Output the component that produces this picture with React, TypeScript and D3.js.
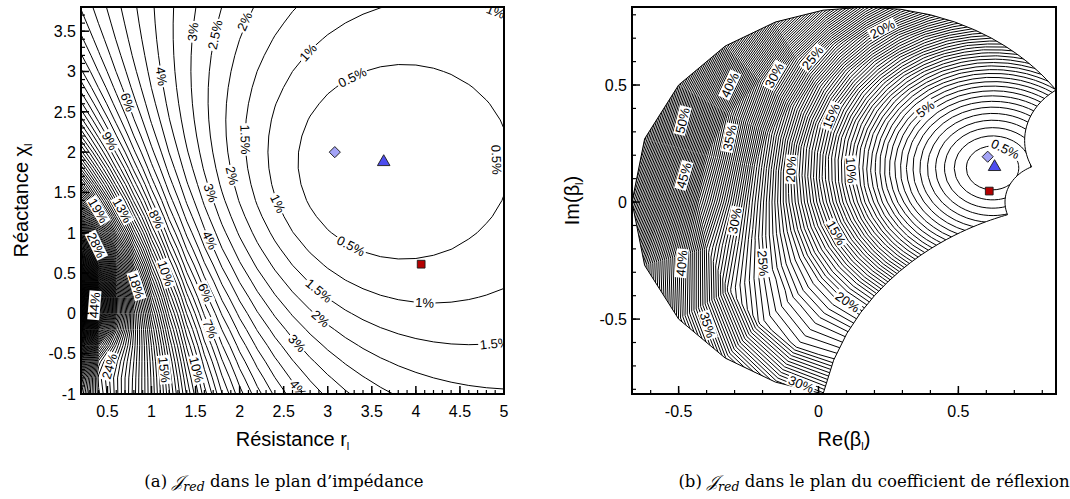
import React, { useMemo } from "react";
import * as d3 from "d3";

// ---------- data ----------
// nodes of the impedance mesh (r_l, chi_l) on which J_red is tabulated (used by both panels)
const R_NODES = [0.2, 0.4, 0.6, 0.8, 1.0, 1.2, 1.4, 1.6, 1.8, 2.0, 2.2, 2.4, 2.6, 2.8, 3.0, 3.2, 3.4, 3.6, 3.8, 4.0, 4.2, 4.4, 4.6, 4.8, 5.0];
const X_NODES = [-1.0, -0.8, -0.6, -0.4, -0.2, 0.0, 0.2, 0.4, 0.6, 0.8, 1.0, 1.2, 1.4, 1.6, 1.8, 2.0, 2.2, 2.4, 2.6, 2.8, 3.0, 3.2, 3.4, 3.6, 3.8];
const MESH_STEP = 0.2;

// contour levels (percent)
const LEVEL_STEP = 0.5;
const LEVEL_MAX = 66;

// J_red field: optimum in the reflection plane, growth rates
const OPTIMUM_BETA = [0.622, 0.146];
const FAR_GAIN = 39;
const NEAR_GAIN = 21;
const NEAR_SCALE = 0.05;
const SKEW_MAX = 0.9;
const SKEW_START = 0.55;
const SKEW_SPAN = 0.6;
const SOFT = 0.08;

// markers in the impedance plane (r, chi)
const MARKER_NAMES = ["diamond", "triangle", "square"];
const MARKER_R = [3.08, 3.635, 4.06];
const MARKER_X = [2.0, 1.878, 0.61];
const MARKER_FILL = ["#a3a3f6", "#4d4def", "#b40000"];

// contour labels: [value %, r, chi] (left) and [value %, Re, Im] (right)
const LEFT_LABELS: number[][] = [
  [3, 1.34, 3.5], [2.5, 1.59, 3.48], [2, 1.93, 3.68], [4, 1.02, 2.92], [6, 0.63, 2.57],
  [9, 0.45, 2.09], [19, 0.34, 1.24], [13, 0.64, 1.26], [8, 1.08, 1.18], [3, 1.61, 1.47],
  [2, 1.81, 1.68], [1.5, 1.95, 2.15], [1, 2.7, 3.31], [1, 2.34, 1.32], [0.5, 3.29, 2.9],
  [0.5, 4.78, 1.9], [1, 4.86, 3.62], [0.5, 3.25, 0.81], [1, 4.1, 0.18], [1.5, 2.86, 0.23],
  [2, 2.89, -0.1], [3, 2.67, -0.35], [4, 2.76, -0.85], [1.5, 4.88, -0.27], [28, 0.38, 0.85],
  [44, 0.36, 0.1], [18, 0.85, 0.35], [10, 1.17, 0.5], [4, 1.63, 0.89], [6, 1.63, 0.27],
  [7, 1.67, -0.19], [24, 0.62, -0.68], [15, 1.13, -0.7], [10, 1.54, -0.69],
];
const RIGHT_LABELS: number[][] = [
  [50, -0.46, 0.34], [45, -0.47, 0.11], [40, -0.3, 0.49], [35, -0.3, 0.27], [30, -0.14, 0.53],
  [25, -0.02, 0.615], [15, 0.06, 0.36], [20, -0.09, 0.14], [10, 0.125, 0.137], [30, -0.3, -0.08],
  [40, -0.5, -0.26], [35, -0.41, -0.53], [25, -0.18, -0.26], [15, 0.05, -0.14], [20, 0.114, -0.41],
  [30, -0.046, -0.73], [5, 0.38, 0.4], [20, 0.21, 0.78], [0.5, 0.66, 0.21],
];

// axes
const LEFT_X_TICKS = [0.5, 1, 1.5, 2, 2.5, 3, 3.5, 4, 4.5, 5];
const LEFT_Y_TICKS = [-1, -0.5, 0, 0.5, 1, 1.5, 2, 2.5, 3, 3.5];
const RIGHT_X_TICKS = [-0.5, 0, 0.5];
const RIGHT_Y_TICKS = [-0.5, 0, 0.5];

// ---------- helpers ----------
function toBeta(r: number, x: number): [number, number] {
  const a = r - 1, b = x, c = r + 1, d = x;
  const den = c * c + d * d;
  return [(a * c + b * d) / den, (b * c - a * d) / den];
}
function toZ(re: number, im: number): [number, number] {
  const a = 1 + re, b = im, c = 1 - re, d = -im;
  const den = c * c + d * d;
  return [(a * c + b * d) / den, (b * c - a * d) / den];
}
function softplus(v: number) {
  const t = v / SOFT;
  return t > 30 ? v : SOFT * Math.log1p(Math.exp(t));
}
function jred(re: number, im: number) {
  const dx = re - OPTIMUM_BETA[0], dy = im - OPTIMUM_BETA[1];
  const d = Math.hypot(dx, dy);
  const t = Math.min(1, Math.max(0, (d - SKEW_START) / SKEW_SPAN));
  const k = SKEW_MAX * t * t * (3 - 2 * t);
  const u = Math.max(0, d * d - k * softplus(-dx) * softplus(-dy));
  return FAR_GAIN * u + NEAR_GAIN * u * Math.exp(-u / NEAR_SCALE);
}

const FONT = "'Liberation Sans', Arial, Helvetica, sans-serif";
const SERIF = "'DejaVu Serif', 'Liberation Serif', serif";

const charW: Record<string, number> = { ".": 0.278, "%": 0.889 };
function textWidth(s: string, size: number) {
  let w = 0;
  for (const ch of s) w += charW[ch] ?? 0.556;
  return w * size;
}

function placeLabel(level: number, px0: number, py0: number, f: (x: number, y: number) => number) {
  let px = px0, py = py0;
  const h = 0.75;
  const MAXD = 12;
  for (let it = 0; it < 40; it++) {
    const v = f(px, py);
    const gx = (f(px + h, py) - f(px - h, py)) / (2 * h);
    const gy = (f(px, py + h) - f(px, py - h)) / (2 * h);
    const g2 = gx * gx + gy * gy;
    if (g2 < 1e-12) break;
    let sx = ((level - v) * gx) / g2, sy = ((level - v) * gy) / g2;
    const len = Math.hypot(sx, sy);
    if (len > 4) { sx *= 4 / len; sy *= 4 / len; }
    px += sx; py += sy;
    const dd = Math.hypot(px - px0, py - py0);
    if (dd > MAXD) { px = px0 + ((px - px0) * MAXD) / dd; py = py0 + ((py - py0) * MAXD) / dd; }
    if (len < 0.01) break;
  }
  const H = 3;
  const gx = f(px + H, py) - f(px - H, py);
  const gy = f(px, py + H) - f(px, py - H);
  let ang = (Math.atan2(gy, gx) * 180) / Math.PI + 90;
  while (ang > 90) ang -= 180;
  while (ang <= -90) ang += 180;
  return { px, py, ang };
}

function fmt(v: number) { return String(v); }

export default function App() {
  const built = useMemo(() => {
    const R_EXT = [R_NODES[0] - MESH_STEP, ...R_NODES, R_NODES[R_NODES.length - 1] + MESH_STEP];
    const X_EXT = [X_NODES[0] - MESH_STEP, ...X_NODES, X_NODES[X_NODES.length - 1] + MESH_STEP];
    const n = R_EXT.length, m = X_EXT.length;
    const values: number[] = new Array(n * m);
    const betaNodes: [number, number][] = new Array(n * m);
    for (let j = 0; j < m; j++) {
      for (let i = 0; i < n; i++) {
        const b = toBeta(R_EXT[i], X_EXT[j]);
        betaNodes[i + j * n] = b;
        values[i + j * n] = jred(b[0], b[1]);
      }
    }
    const levels = d3.range(1, Math.round(LEVEL_MAX / LEVEL_STEP) + 1).map((k) => k * LEVEL_STEP);
    const contours = d3.contours().size([n, m]).thresholds(levels)(values);

    const meshValue = (r: number, x: number) => {
      const u = (r - R_EXT[0]) / MESH_STEP, v = (x - X_EXT[0]) / MESH_STEP;
      const i0 = Math.min(n - 2, Math.max(0, Math.floor(u)));
      const j0 = Math.min(m - 2, Math.max(0, Math.floor(v)));
      const t = u - i0, s = v - j0;
      const a = values[i0 + j0 * n], b = values[i0 + 1 + j0 * n];
      const c = values[i0 + (j0 + 1) * n], d = values[i0 + 1 + (j0 + 1) * n];
      return (1 - t) * (1 - s) * a + t * (1 - s) * b + (1 - t) * s * c + t * s * d;
    };
    const meshToBeta = (cx: number, cy: number): [number, number] => {
      const u = cx - 0.5, v = cy - 0.5;
      const i0 = Math.min(n - 2, Math.max(0, Math.floor(u)));
      const j0 = Math.min(m - 2, Math.max(0, Math.floor(v)));
      const t = u - i0, s = v - j0;
      const a = betaNodes[i0 + j0 * n], b = betaNodes[i0 + 1 + j0 * n];
      const c = betaNodes[i0 + (j0 + 1) * n], d = betaNodes[i0 + 1 + (j0 + 1) * n];
      return [
        (1 - t) * (1 - s) * a[0] + t * (1 - s) * b[0] + (1 - t) * s * c[0] + t * s * d[0],
        (1 - t) * (1 - s) * a[1] + t * (1 - s) * b[1] + (1 - t) * s * c[1] + t * s * d[1],
      ];
    };

    // scales
    const xL = d3.scaleLinear().domain([0.2, 5]).range([81, 504]);
    const yL = d3.scaleLinear().domain([-1, 3.8]).range([394, 7]);
    const xR = d3.scaleLinear().domain([-0.6667, 0.849]).range([632, 1056]);
    const yR = d3.scaleLinear().domain([-0.82, 0.8333]).range([394, 7]);

    const pathL = d3.geoPath(
      d3.geoTransform({
        point(this: any, cx: number, cy: number) {
          const r = R_EXT[0] + (cx - 0.5) * MESH_STEP;
          const x = X_EXT[0] + (cy - 0.5) * MESH_STEP;
          this.stream.point(xL(r), yL(x));
        },
      })
    );
    const pathR = d3.geoPath(
      d3.geoTransform({
        point(this: any, cx: number, cy: number) {
          const b = meshToBeta(cx, cy);
          this.stream.point(xR(b[0]), yR(b[1]));
        },
      })
    );
    const leftPaths = contours.map((c) => pathL(c as any) || "");
    const rightPaths = contours.map((c) => pathR(c as any) || "");

    // region boundary in reflection plane
    const bnd: [number, number][] = [];
    X_NODES.forEach((x) => bnd.push([R_NODES[0], x]));
    R_NODES.slice(1).forEach((r) => bnd.push([r, X_NODES[X_NODES.length - 1]]));
    X_NODES.slice(0, -1).reverse().forEach((x) => bnd.push([R_NODES[R_NODES.length - 1], x]));
    R_NODES.slice(1, -1).reverse().forEach((r) => bnd.push([r, X_NODES[0]]));
    const regionPts = bnd.map(([r, x]) => {
      const b = toBeta(r, x);
      return [xR(b[0]), yR(b[1])] as [number, number];
    });
    const regionPath = "M" + regionPts.map((p) => p.join(",")).join("L") + "Z";

    const fL = (px: number, py: number) => meshValue(xL.invert(px), yL.invert(py));
    const fR = (px: number, py: number) => {
      const z = toZ(xR.invert(px), yR.invert(py));
      return meshValue(z[0], z[1]);
    };
    const leftLabels = LEFT_LABELS.map(([v, r, x]) => ({ v, ...placeLabel(v, xL(r), yL(x), fL) }));
    const rightLabels = RIGHT_LABELS.map(([v, re, im]) => ({ v, ...placeLabel(v, xR(re), yR(im), fR) }));

    const markersL = MARKER_NAMES.map((nm, i) => ({ nm, fill: MARKER_FILL[i], x: xL(MARKER_R[i]), y: yL(MARKER_X[i]) }));
    const markersR = MARKER_NAMES.map((nm, i) => {
      const b = toBeta(MARKER_R[i], MARKER_X[i]);
      return { nm, fill: MARKER_FILL[i], x: xR(b[0]), y: yR(b[1]) };
    });

    return { xL, yL, xR, yR, leftPaths, rightPaths, regionPath, leftLabels, rightLabels, markersL, markersR };
  }, []);

  const { xL, yL, xR, yR } = built;

  const marker = (mk: { nm: string; fill: string; x: number; y: number }, key: string) => {
    let d = "";
    if (mk.nm === "diamond") d = d3.symbol().type(d3.symbolSquare).size(62)() || "";
    if (mk.nm === "triangle") d = d3.symbol().type(d3.symbolTriangle).size(68)() || "";
    if (mk.nm === "square") d = d3.symbol().type(d3.symbolSquare).size(60)() || "";
    const rot = mk.nm === "diamond" ? " rotate(45)" : "";
    return <path key={key} d={d} transform={`translate(${mk.x},${mk.y})${rot}`} fill={mk.fill} stroke="#1a1a1a" strokeWidth={0.9} />;
  };

  const label = (lb: { v: number; px: number; py: number; ang: number }, key: string) => {
    const s = fmt(lb.v) + "%";
    const w = textWidth(s, 13);
    return (
      <g key={key} transform={`translate(${lb.px},${lb.py}) rotate(${lb.ang})`}>
        <rect x={-w / 2 - 1.5} y={-6} width={w + 3} height={12} fill="#fff" />
        <text x={0} y={0} dy="0.36em" textAnchor="middle" fontSize={13} fontFamily={FONT} fill="#000">{s}</text>
      </g>
    );
  };

  const minor = (a: number, b: number) => d3.range(Math.round(a * 10), Math.round(b * 10) + 1).map((k) => k / 10);

  const axes = (
    xs: d3.ScaleLinear<number, number>, ys: d3.ScaleLinear<number, number>,
    xt: number[], yt: number[], xMinor: number[], yMinor: number[], key: string
  ) => {
    const [x0, x1] = xs.range();
    const [y1, y0] = ys.range();
    return (
      <g key={key}>
        {xMinor.map((v, i) => (
          <line key={"xm" + i} x1={xs(v)} x2={xs(v)} y1={y1} y2={y1 - 4} stroke="#000" strokeWidth={1.2} />
        ))}
        {yMinor.map((v, i) => (
          <line key={"ym" + i} x1={x0} x2={x0 + 4} y1={ys(v)} y2={ys(v)} stroke="#000" strokeWidth={1.2} />
        ))}
        {xt.map((v, i) => (
          <g key={"xt" + i}>
            <line x1={xs(v)} x2={xs(v)} y1={y1} y2={y1 - 8} stroke="#000" strokeWidth={1.5} />
            <text x={xs(v)} y={417} textAnchor="middle" fontSize={16} fontFamily={FONT}>{fmt(v)}</text>
          </g>
        ))}
        {yt.map((v, i) => (
          <g key={"yt" + i}>
            <line x1={x0} x2={x0 + 8} y1={ys(v)} y2={ys(v)} stroke="#000" strokeWidth={1.5} />
            <text x={x0 - 5} y={ys(v)} dy="0.36em" textAnchor="end" fontSize={16} fontFamily={FONT}>{fmt(v)}</text>
          </g>
        ))}
        <rect x={x0} y={y0} width={x1 - x0} height={y1 - y0} fill="none" stroke="#000" strokeWidth={2} />
      </g>
    );
  };

  return (
    <svg width={1070} height={499} style={{ position: "absolute", left: 0, top: 0, background: "#fff" }}>
      <defs>
        <clipPath id="clipL"><rect x={81} y={7} width={423} height={387} /></clipPath>
        <clipPath id="clipR"><path d={built.regionPath} /></clipPath>
        <clipPath id="clipRbox"><rect x={632} y={7} width={424} height={387} /></clipPath>
      </defs>
      <rect x={0} y={0} width={1070} height={499} fill="#fff" />

      {/* left panel */}
      <g clipPath="url(#clipL)">
        {built.leftPaths.map((d, i) => (
          <path key={i} d={d} fill="none" stroke="#000" strokeWidth={1} />
        ))}
        {built.leftLabels.map((lb, i) => label(lb, "ll" + i))}
        {built.markersL.map((mk, i) => marker(mk, "ml" + i))}
      </g>
      {axes(xL, yL, LEFT_X_TICKS, LEFT_Y_TICKS, minor(0.2, 5), minor(-1, 3.8), "axL")}

      {/* right panel */}
      <g clipPath="url(#clipRbox)">
        <g clipPath="url(#clipR)">
          {built.rightPaths.map((d, i) => (
            <path key={i} d={d} fill="none" stroke="#000" strokeWidth={1} />
          ))}
        </g>
        <path d={built.regionPath} fill="none" stroke="#000" strokeWidth={1} />
        {built.rightLabels.map((lb, i) => label(lb, "rl" + i))}
        {built.markersR.map((mk, i) => marker(mk, "mr" + i))}
      </g>
      {axes(xR, yR, RIGHT_X_TICKS, RIGHT_Y_TICKS, minor(-0.6, 0.8), minor(-0.8, 0.8), "axR")}

      {/* axis titles */}
      <text x={292.5} y={446} textAnchor="middle" fontSize={20} fontFamily={FONT}>
        Résistance r<tspan fontSize={11} dy={4}>l</tspan>
      </text>
      <text transform="translate(28,200.5) rotate(-90)" textAnchor="middle" fontSize={20} fontFamily={FONT}>
        Réactance χ<tspan fontSize={11} dy={4}>l</tspan>
      </text>
      <text x={844} y={446} textAnchor="middle" fontSize={20} fontFamily={FONT}>
        Re(β<tspan fontSize={11} dy={4}>l</tspan><tspan dy={-4}>)</tspan>
      </text>
      <text transform="translate(579,200.5) rotate(-90)" textAnchor="middle" fontSize={20} fontFamily={FONT}>
        Im(β<tspan fontSize={11} dy={4}>l</tspan><tspan dy={-4}>)</tspan>
      </text>

      {/* captions */}
      <text x={284} y={487} textAnchor="middle" fontSize={16.5} fontFamily={SERIF}>
        (a) <tspan fontStyle="italic">𝒥</tspan><tspan fontStyle="italic" fontSize={12.5} dy={4}>red</tspan><tspan dy={-4}>{" dans le plan d’impédance"}</tspan>
      </text>
      <text x={874} y={487} textAnchor="middle" fontSize={16.5} fontFamily={SERIF}>
        (b) <tspan fontStyle="italic">𝒥</tspan><tspan fontStyle="italic" fontSize={12.5} dy={4}>red</tspan><tspan dy={-4}>{" dans le plan du coefficient de réflexion"}</tspan>
      </text>
    </svg>
  );
}
